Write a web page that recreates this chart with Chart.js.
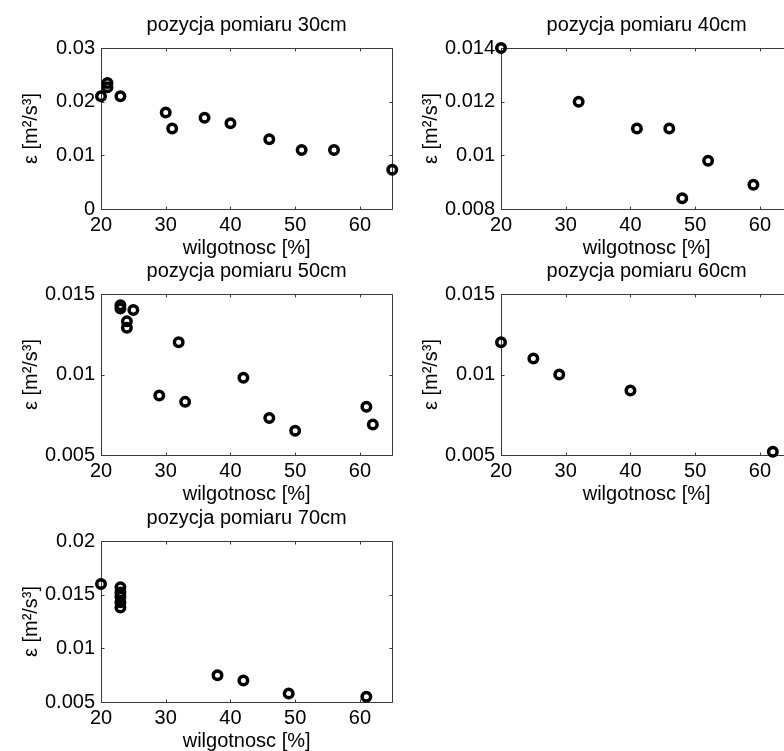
<!DOCTYPE html>
<html><head><meta charset="utf-8">
<script src="https://cdn.jsdelivr.net/npm/chart.js@4.4.1/dist/chart.umd.min.js"></script>
<style>
html,body{margin:0;padding:0;background:#fff;overflow:hidden;width:784px;height:751px;}
#wrap{position:relative;width:784px;height:751px;overflow:hidden;background:#fff;}
canvas{position:absolute;}
</style></head><body>
<div id="wrap">
<canvas id="c30" width="400" height="260" style="left:0px;top:0px"></canvas>
<canvas id="c40" width="400" height="260" style="left:400px;top:0px"></canvas>
<canvas id="c50" width="400" height="260" style="left:0px;top:246px"></canvas>
<canvas id="c60" width="400" height="260" style="left:400px;top:246px"></canvas>
<canvas id="c70" width="400" height="260" style="left:0px;top:493px"></canvas>
</div>
<script>
// ---- data ----
const titles = ['pozycja pomiaru 30cm','pozycja pomiaru 40cm','pozycja pomiaru 50cm','pozycja pomiaru 60cm','pozycja pomiaru 70cm'];
const xLabel = 'wilgotnosc [%]';
const yLabel = 'ε [m²/s³]';
const xTicks = [20, 30, 40, 50, 60];

const x30 = [20, 21, 21, 23, 30, 31, 36, 40, 46, 51, 56, 65];
const y30 = [0.021, 0.0235, 0.0227, 0.021, 0.018, 0.015, 0.017, 0.016, 0.013, 0.011, 0.011, 0.0073];
const yTicks30 = [0, 0.01, 0.02, 0.03];

const x40 = [20, 32, 41, 46, 48, 52, 59];
const y40 = [0.014, 0.012, 0.011, 0.011, 0.0084, 0.0098, 0.0089];
const yTicks40 = [0.008, 0.01, 0.012, 0.014];

const x50 = [23, 23, 24, 24, 25, 29, 32, 33, 42, 46, 50, 61, 62];
const y50 = [0.0143, 0.0141, 0.0133, 0.0129, 0.0140, 0.0087, 0.0120, 0.0083, 0.0098, 0.0073, 0.0065, 0.0080, 0.0069];
const yTicks50 = [0.005, 0.01, 0.015];

const x60 = [20, 25, 29, 40, 62];
const y60 = [0.012, 0.011, 0.010, 0.009, 0.0052];
const yTicks60 = [0.005, 0.01, 0.015];

const x70 = [20, 23, 23, 23, 23, 23, 38, 42, 49, 61];
const y70 = [0.016, 0.0157, 0.0152, 0.0148, 0.0143, 0.0138, 0.0075, 0.0070, 0.0058, 0.0055];
const yTicks70 = [0.005, 0.01, 0.015, 0.02];

const xMin = 20, xMax = 65;

// ---- rendering ----
const FONT = "'Liberation Sans', Arial, Helvetica, sans-serif";
Chart.defaults.font.family = FONT;
Chart.defaults.font.size = 20;
Chart.defaults.color = '#000';

const framePlugin = {
  id: 'frame',
  beforeDatasetsDraw(chart) {
    const {ctx, chartArea} = chart;
    const xs = chart.scales.x, ys = chart.scales.y;
    const L = Math.round(chartArea.left) + 0.5, R = Math.round(chartArea.right) + 0.5;
    const T = Math.round(chartArea.top) + 0.5, B = Math.round(chartArea.bottom) + 0.5;
    const tl = 3;
    ctx.save();
    ctx.strokeStyle = '#3a3a3a';
    ctx.lineWidth = 1;
    ctx.beginPath();
    ctx.rect(L, T, R - L, B - T);
    xs.ticks.forEach(t => {
      const p = Math.round(xs.getPixelForValue(t.value)) + 0.5;
      ctx.moveTo(p, B); ctx.lineTo(p, B - tl);
      ctx.moveTo(p, T); ctx.lineTo(p, T + tl);
    });
    ys.ticks.forEach(t => {
      const p = Math.round(ys.getPixelForValue(t.value)) + 0.5;
      ctx.moveTo(L, p); ctx.lineTo(L + tl, p);
      ctx.moveTo(R, p); ctx.lineTo(R - tl, p);
    });
    ctx.stroke();
    ctx.restore();
  }
};

function fmt(v) { return String(+v.toFixed(4)); }

function makeChart(id, title, xs, ys, yTicks) {
  const pts = xs.map((x, i) => ({x: x, y: ys[i]}));
  new Chart(document.getElementById(id), {
    type: 'scatter',
    data: { datasets: [{
      data: pts,
      xAxisID: 'x', yAxisID: 'y',
      pointStyle: 'circle',
      pointRadius: 4.25,
      pointBorderWidth: 3.5,
      pointBackgroundColor: 'rgba(0,0,0,0)',
      pointBorderColor: '#000',
      pointHoverRadius: 4.25,
      clip: false
    }]},
    options: {
      responsive: false,
      animation: false,
      devicePixelRatio: 1,
      events: [],
      layout: { padding: { left: 0, right: 6, top: 0, bottom: 0 } },
      plugins: { legend: { display: false }, tooltip: { enabled: false }, title: { display: false } },
      scales: {
        x: {
          type: 'linear', position: 'bottom', min: xMin, max: xMax,
          afterBuildTicks: s => { s.ticks = xTicks.map(v => ({value: v})); },
          afterFit: s => { s.height = 51; },
          grid: { display: false, drawTicks: false },
          border: { display: false },
          ticks: { padding: 4, color: '#000', font: { size: 20 }, maxRotation: 0, callback: v => String(v) },
          title: { display: true, text: xLabel, color: '#000', font: { size: 20, lineHeight: 1.2 }, padding: { top: 0, bottom: 0 } }
        },
        xTop: {
          type: 'linear', position: 'top', display: true,
          afterFit: s => { s.height = 48; },
          grid: { display: false, drawTicks: false },
          border: { display: false },
          ticks: { display: false },
          title: { display: true, text: title, color: '#000', font: { size: 20, lineHeight: 1.2 }, padding: { top: 13, bottom: 0 } }
        },
        y: {
          type: 'linear', position: 'left', min: yTicks[0], max: yTicks[yTicks.length - 1],
          afterBuildTicks: s => { s.ticks = yTicks.map(v => ({value: v})); },
          afterFit: s => { s.width = 101; },
          grid: { display: false, drawTicks: false },
          border: { display: false },
          ticks: { padding: 6, color: '#000', font: { size: 20 }, callback: v => fmt(v) },
          title: { display: true, text: yLabel, color: '#000', font: { size: 20, lineHeight: 1.2 }, padding: { top: 19, bottom: 0 } }
        }
      }
    },
    plugins: [framePlugin]
  });
}

makeChart('c30', titles[0], x30, y30, yTicks30);
makeChart('c40', titles[1], x40, y40, yTicks40);
makeChart('c50', titles[2], x50, y50, yTicks50);
makeChart('c60', titles[3], x60, y60, yTicks60);
makeChart('c70', titles[4], x70, y70, yTicks70);
</script>
</body></html>
